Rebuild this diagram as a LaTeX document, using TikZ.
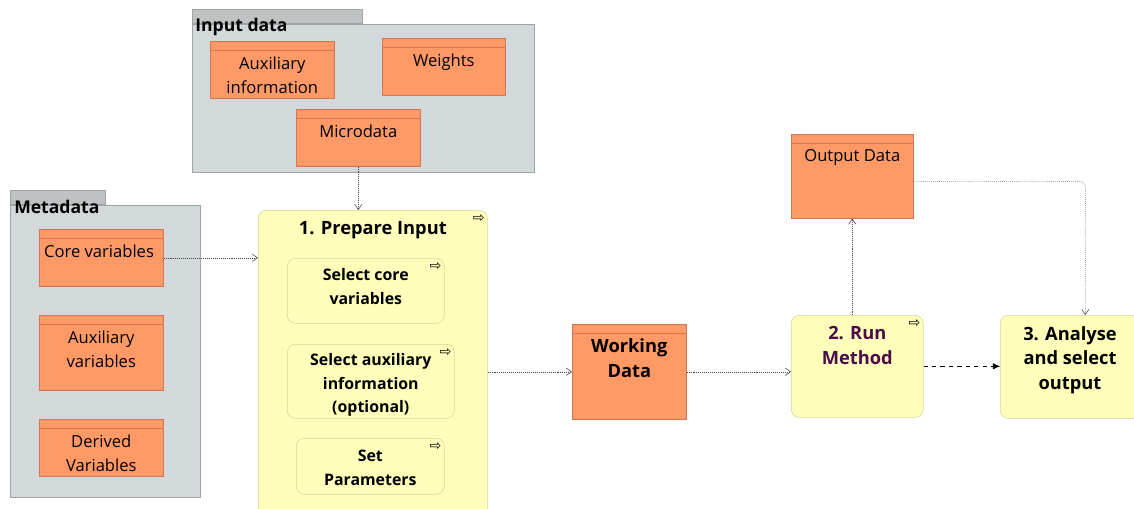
\documentclass[tikz,border=0pt]{standalone}
\usepackage{fontspec}
\setmainfont{Open Sans}
\newfontfamily\symfont{DejaVu Sans}
\usetikzlibrary{arrows.meta}
\definecolor{pkgfill}{HTML}{D3D9DA}
\definecolor{pkgtabfill}{HTML}{BEC2C3}
\definecolor{pkgline}{HTML}{9EA3A4}
\definecolor{datafill}{HTML}{FF9966}
\definecolor{dataline}{HTML}{D2774E}
\definecolor{actfill}{HTML}{FFFFBB}
\definecolor{actline}{HTML}{D6D69A}
\definecolor{flowline}{HTML}{444444}
\definecolor{runtext}{HTML}{4A0A4C}

\begin{document}
\begin{tikzpicture}[x=0.025cm, y=-0.025cm]
		\tikzset{pkg/.style = {draw=pkgline, fill=pkgfill, anchor=north west, inner sep=0}}
		\tikzset{pkgtab/.style = {draw=pkgline, fill=pkgtabfill, anchor=south west, inner sep=0, minimum height=0.36cm}}
		\tikzset{pkglabel/.style = {anchor=north west, inner sep=0, font=\bfseries\fontsize{12.5}{15}\selectfont}}
		\tikzset{data/.style = {draw=dataline, fill=datafill, anchor=north west, inner sep=0}}
		\tikzset{act/.style = {draw=actline, fill=actfill, rounded corners=0.2cm, anchor=north west, inner sep=0}}
		\tikzset{txt/.style = {anchor=north, inner sep=0, align=center, font=\fontsize{11.8}{17}\selectfont}}
		\tikzset{btxt/.style = {anchor=north, inner sep=0, align=center, font=\bfseries\fontsize{13}{17.5}\selectfont}}
		\tikzset{stxt/.style = {btxt, font=\bfseries\fontsize{11.3}{17}\selectfont}}
		\tikzset{icon/.style = {anchor=north east, inner sep=0, font=\symfont\fontsize{10}{10}\selectfont}}
		\tikzset{flow/.style = {flowline, densely dotted, -{Straight Barb[length=1.3mm, width=1.8mm]}}}
		\tikzset{next/.style = {black, dashed, -{Latex[length=1.8mm, width=1.6mm]}}}
		\useasboundingbox (0,0) rectangle (1134,508);
		\clip (0,0) rectangle (1134,508);
		%packages
		\node[pkg, minimum width=8.55cm, minimum height=3.7cm] (inputpkg) at (192,24) {};
		\node[pkgtab, minimum width=4.25cm] (inputtab) at (inputpkg.north west) {};
		\node[pkglabel] (inputlbl) at (195,18) {Input data};
		\node[pkg, minimum width=4.75cm, minimum height=7.3cm] (metapkg) at (10,205) {};
		\node[pkgtab, minimum width=2.375cm] (metatab) at (metapkg.north west) {};
		\node[pkglabel] (metalbl) at (14,200) {Metadata};
		%data objects
		\node[data, minimum width=3.1cm, minimum height=1.425cm] (auxinfo) at (210,41) {};
		\node[data, minimum width=3.075cm, minimum height=1.425cm] (weights) at (382,38) {};
		\node[data, minimum width=3.1cm, minimum height=1.425cm] (microdata) at (296,109) {};
		\node[data, minimum width=3.1cm, minimum height=1.425cm] (core) at (39,229) {};
		\node[data, minimum width=3.1cm, minimum height=1.875cm] (auxvar) at (39,315) {};
		\node[data, minimum width=3.1cm, minimum height=1.425cm] (derived) at (39,419) {};
		\node[data, minimum width=2.85cm, minimum height=2.375cm] (working) at (572,324) {};
		\node[data, minimum width=3.05cm, minimum height=2.1cm] (output) at (791,134) {};
		\foreach \d in {auxinfo,weights,microdata,core,auxvar,derived,working,output}
			\draw[dataline] ([yshift=-0.22cm]\d.north west) -- ([yshift=-0.22cm]\d.north east);
		\node[txt] (auxinfo-t) at ([yshift=-0.38cm]auxinfo.north) {Auxiliary\\information};
		\node[txt] (weights-t) at ([yshift=-0.38cm]weights.north) {Weights};
		\node[txt] (microdata-t) at ([yshift=-0.38cm]microdata.north) {Microdata};
		\node[txt, anchor=north west] (core-t) at ([xshift=0.12cm, yshift=-0.38cm]core.north west) {Core variables};
		\node[txt] (auxvar-t) at ([yshift=-0.38cm]auxvar.north) {Auxiliary\\variables};
		\node[txt] (derived-t) at ([yshift=-0.38cm]derived.north) {Derived\\Variables};
		\node[btxt] (working-t) at ([yshift=-0.36cm]working.north) {Working\\Data};
		\node[txt] (output-t) at ([yshift=-0.38cm]output.north) {Output Data};
		%actions
		\node[act, minimum width=5.725cm, minimum height=7.75cm] (prepare) at (258,210) {};
		\node[act, minimum width=3.925cm, minimum height=1.625cm] (selcore) at (287,258) {};
		\node[act, minimum width=4.175cm, minimum height=1.85cm] (selaux) at (287,344) {};
		\node[act, minimum width=3.7cm, minimum height=1.4cm] (setpar) at (296,438) {};
		\node[act, minimum width=3.3cm, minimum height=2.55cm] (run) at (791,315) {};
		\node[act, minimum width=3.75cm, minimum height=2.575cm] (analyse) at (1000,315) {};
		\node[btxt] (prepare-t) at ([yshift=-0.28cm]prepare.north) {1. Prepare Input};
		\node[stxt] (selcore-t) at ([yshift=-0.25cm]selcore.north) {Select core\\variables};
		\node[stxt] (selaux-t) at ([yshift=-0.22cm]selaux.north) {Select auxiliary\\information\\(optional)};
		\node[stxt] (setpar-t) at ([yshift=-0.3cm]setpar.north) {Set\\Parameters};
		\node[btxt, text=runtext] (run-t) at ([yshift=-0.28cm]run.north) {2. Run\\Method};
		\node[btxt] (analyse-t) at ([xshift=1.75cm, yshift=-0.28cm]analyse.north west) {3. Analyse\\and select\\output};
		\foreach \a in {prepare,selcore,selaux,setpar,run,analyse}
			\node[icon] (\a-i) at ([xshift=-0.07cm, yshift=-0.12cm]\a.north east) {⇨};
		%edges
		\draw[flow] (microdata.south) to (microdata.south |- prepare.north);
		\draw[flow] (core.east) to (core.east -| prepare.west);
		\draw[flow] (working.west -| prepare.east) to (working.west);
		\draw[flow] (working.east) to (working.east -| run.west);
		\draw[flow] (output.south |- run.north) to (output.south);
		\draw[flow, rounded corners=0.15cm] ([yshift=-0.125cm]output.east) -| ([xshift=0.25cm]analyse.north);
		\draw[next] (run.east) to (run.east -| analyse.west);
\end{tikzpicture}
\end{document}
